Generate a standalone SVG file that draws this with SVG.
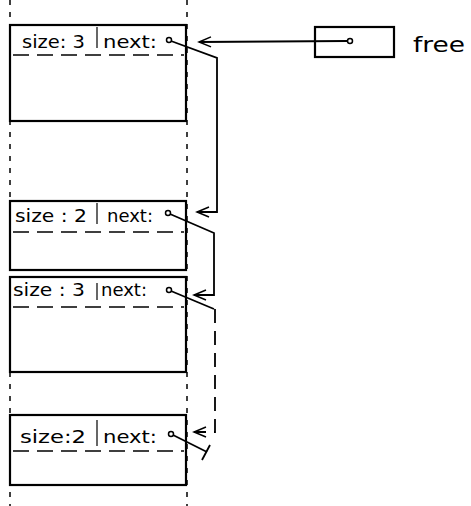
<svg xmlns="http://www.w3.org/2000/svg" width="471" height="506" viewBox="0 0 471 506">
<defs>
<marker id="arr" markerWidth="16" markerHeight="12" refX="13" refY="6" orient="auto" markerUnits="userSpaceOnUse">
<polyline points="1,1 13,6 1,11" fill="none" stroke="#000" stroke-width="1.5"/>
</marker>
<style>
.box{fill:#fff;stroke:#000;stroke-width:2.2}
.hd{stroke:#000;stroke-width:1.5;stroke-dasharray:16 8;fill:none}
.sep{stroke:#000;stroke-width:1.2}
.dot{stroke:#000;stroke-width:1.5;stroke-dasharray:5 7;fill:none}
.t{font-family:"DejaVu Sans","Liberation Sans",sans-serif;font-size:17px;fill:#000}
.c{fill:#fff;stroke:#000;stroke-width:1.5}
.ln{fill:none;stroke:#000;stroke-width:1.8}
.dl{fill:none;stroke:#000;stroke-width:1.8;stroke-dasharray:14 8}
</style>
</defs>
<g id="guides">
<line class="dot" x1="10" y1="0" x2="10" y2="506"/>
<line class="dot" x1="187" y1="0" x2="187" y2="506"/>
</g>
<g id="block1">
<rect class="box" x="10" y="25" width="176" height="96"/>
<line class="hd" x1="13" y1="55" x2="184" y2="55"/>
<line class="sep" x1="97" y1="27" x2="97" y2="48"/>
<text class="t" x="22" y="48" textLength="63" lengthAdjust="spacingAndGlyphs">size: 3</text>
<text class="t" x="103" y="48" textLength="54" lengthAdjust="spacingAndGlyphs">next:</text>
<circle class="c" cx="169" cy="40" r="2.5"/>
</g>
<g id="block2">
<rect class="box" x="10" y="201" width="176" height="69"/>
<line class="hd" x1="13" y1="232" x2="184" y2="232"/>
<line class="sep" x1="97" y1="203" x2="97" y2="224"/>
<text class="t" x="15" y="222" textLength="72" lengthAdjust="spacingAndGlyphs">size : 2</text>
<text class="t" x="107" y="222" textLength="46" lengthAdjust="spacingAndGlyphs">next:</text>
<circle class="c" cx="168" cy="213" r="2.5"/>
</g>
<g id="block3">
<rect class="box" x="10" y="277" width="176" height="95"/>
<line class="hd" x1="13" y1="307" x2="184" y2="307"/>
<line class="sep" x1="97" y1="283" x2="97" y2="300"/>
<text class="t" x="13" y="296" textLength="72" lengthAdjust="spacingAndGlyphs">size : 3</text>
<text class="t" x="101" y="296" textLength="46" lengthAdjust="spacingAndGlyphs">next:</text>
<circle class="c" cx="169" cy="290" r="2.5"/>
</g>
<g id="block4">
<rect class="box" x="10" y="415" width="176" height="70"/>
<line class="hd" x1="13" y1="451" x2="184" y2="451"/>
<line class="sep" x1="97" y1="420" x2="97" y2="446"/>
<text class="t" x="20" y="443" textLength="66" lengthAdjust="spacingAndGlyphs">size:2</text>
<text class="t" x="103" y="443" textLength="54" lengthAdjust="spacingAndGlyphs">next:</text>
<circle class="c" cx="171" cy="434" r="2.5"/>
</g>
<g id="free">
<rect class="box" x="315" y="27" width="79" height="30"/>
<text x="413" y="52" style="font-family:'DejaVu Sans','Liberation Sans',sans-serif;font-size:22px" textLength="52" lengthAdjust="spacingAndGlyphs">free</text>
</g>
<g id="connectors">
<polyline class="ln" points="347,41 199,42" marker-end="url(#arr)"/>
<polyline class="ln" points="171,41 217,58 217,212 197,212" marker-end="url(#arr)"/>
<polyline class="ln" points="170,214 214,233 214,295 194,295" marker-end="url(#arr)"/>
<polyline class="ln" points="171,291 214,309"/>
<polyline class="dl" points="215,309 215,432 194,432" marker-end="url(#arr)"/>
<polyline class="ln" points="173,435 207,452"/>
<line class="ln" x1="202" y1="460" x2="210" y2="445"/>
<circle class="c" cx="350" cy="41" r="2.5"/>
</g>
</svg>
